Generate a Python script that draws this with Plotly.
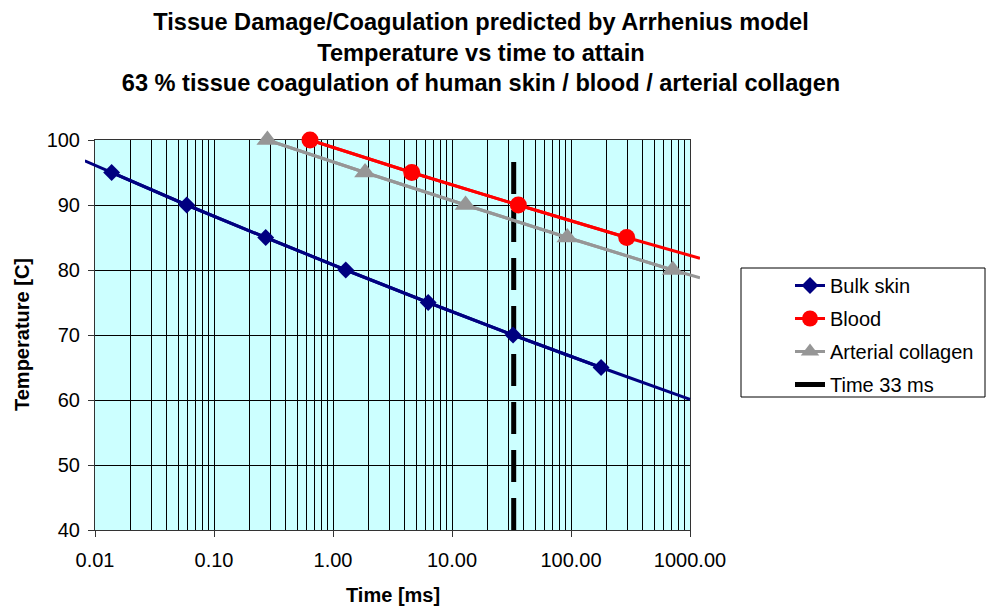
import math
import plotly.graph_objects as go

# ---------------- data ----------------
skin_time = [0.0138, 0.059, 0.272, 1.28, 6.31, 32.6, 179]
skin_temp = [95, 90, 85, 80, 75, 70, 65]
skin_ext_time = [0.0082, 1000]
skin_ext_temp = [96.8, 60.1]

blood_time = [0.641, 4.59, 36.1, 294]
blood_temp = [100, 95, 90, 85]
blood_ext_time = [1213]
blood_ext_temp = [81.8]

collagen_time = [0.281, 1.86, 13.0, 93.1, 716]
collagen_temp = [100, 95, 90, 85, 80]
collagen_ext_time = [1213]
collagen_ext_temp = [78.8]

time33_time = [33, 33]
time33_temp = [40, 97.4]

x_tickvals = [0.01, 0.1, 1, 10, 100, 1000]
x_ticktext = ["0.01", "0.10", "1.00", "10.00", "100.00", "1000.00"]
y_tickvals = [40, 50, 60, 70, 80, 90, 100]

title_lines = [
    "Tissue Damage/Coagulation predicted by Arrhenius model",
    "Temperature vs time to attain",
    "63 % tissue coagulation of human skin / blood / arterial collagen",
]

# ---------------- layout geometry ----------------
W, H = 989, 606
PL, PR, PT, PB = 95, 690, 140, 530  # plot area in px
EXT = 10  # px the series lines run past the frame

FONT = "Liberation Sans, Arial, Helvetica, sans-serif"
NAVY, RED, GRAY = "#000080", "#FF0000", "#969696"

xdom = [PL / W, PR / W]
ydom = [1 - PB / H, 1 - PT / H]
lx0, lx1 = math.log10(x_tickvals[0]), math.log10(x_tickvals[-1])
per_px = (lx1 - lx0) / (PR - PL)
x2dom = [(PL - EXT) / W, (PR + EXT) / W]
x2range = [lx0 - EXT * per_px, lx1 + EXT * per_px]

minor_vals = [m * 10 ** e for e in range(-2, 3) for m in range(2, 10)]

fig = go.Figure()

# dashed 33 ms line on the framed axes (drawn first, below everything else)
fig.add_trace(go.Scatter(
    x=time33_time, y=time33_temp, name="Time 33 ms", mode="lines",
    line=dict(color="black", width=5, dash="32px,16px"),
    legendrank=4, legendgroup="d",
))

specs = [
    ("Bulk skin", skin_time, skin_temp, skin_ext_time[:1], skin_ext_temp[:1],
     skin_ext_time[1:], skin_ext_temp[1:], NAVY, "diamond", 13),
    ("Blood", blood_time, blood_temp, [], [], blood_ext_time, blood_ext_temp,
     RED, "circle", 17),
    ("Arterial collagen", collagen_time, collagen_temp, [], [],
     collagen_ext_time, collagen_ext_temp, GRAY, "triangle-up", 19),
]

# curves, continued a little past the frame as in the reference
# (on an unframed twin axis pair with the same scale but a slightly wider domain)
for name, t, T, tb, Tb, ta, Ta, color, symbol, size in specs:
    fig.add_trace(go.Scatter(
        x=tb + t + ta, y=Tb + T + Ta, mode="lines",
        line=dict(color=color, width=3),
        xaxis="x2", yaxis="y2", showlegend=False, hoverinfo="skip",
    ))

# markers on top
for rank, (name, t, T, tb, Tb, ta, Ta, color, symbol, size) in enumerate(specs, 1):
    fig.add_trace(go.Scatter(
        x=t, y=T, name=name, mode="lines+markers",
        line=dict(color=color, width=3),
        marker=dict(symbol=symbol, size=size, color=color),
        xaxis="x2", yaxis="y2", cliponaxis=False,
        legendrank=rank, legendgroup=name,
    ))

axis_font = dict(family=FONT, size=20, color="black")

fig.update_layout(
    width=W, height=H,
    margin=dict(l=0, r=0, t=0, b=0),
    paper_bgcolor="white",
    plot_bgcolor="rgba(0,0,0,0)",
    font=dict(family=FONT, color="black"),
    title=dict(
        text="<br>".join(title_lines),
        font=dict(family=FONT, size=23.6, color="black", weight="bold"),
        x=481 / W, xanchor="center", xref="paper",
        y=1 - 30 / H, yanchor="top", yref="container",
    ),
    xaxis=dict(
        type="log", domain=xdom, range=[lx0, lx1], anchor="y",
        tickvals=x_tickvals, ticktext=x_ticktext, tickfont=axis_font,
        ticks="outside", ticklen=6, tickcolor="#333", ticklabelstandoff=6,
        showgrid=True, gridcolor="black", gridwidth=1,
        minor=dict(tickvals=minor_vals, showgrid=True, gridcolor="black",
                   gridwidth=1, ticks=""),
        showline=True, linecolor="#333", linewidth=1, mirror=True,
        zeroline=False, automargin=False, fixedrange=True,
    ),
    yaxis=dict(
        domain=ydom, range=[40, 100], anchor="x",
        tickvals=y_tickvals, tickfont=axis_font,
        ticks="outside", ticklen=6, tickcolor="#333", ticklabelstandoff=4,
        showgrid=True, gridcolor="black", gridwidth=1,
        showline=True, linecolor="#333", linewidth=1, mirror=True,
        zeroline=False, automargin=False, fixedrange=True,
    ),
    xaxis2=dict(
        type="log", domain=x2dom, range=x2range, anchor="y2",
        visible=False, showgrid=False, zeroline=False, fixedrange=True,
    ),
    yaxis2=dict(
        domain=ydom, range=[40, 100], anchor="x2",
        visible=False, showgrid=False, zeroline=False, fixedrange=True,
    ),
    showlegend=True,
    legend=dict(
        x=790 / W, xanchor="left", y=1 - 266 / H, yanchor="top",
        font=dict(family=FONT, size=20, color="black"),
        bgcolor="rgba(0,0,0,0)", borderwidth=0, tracegroupgap=4,
        traceorder="grouped",
    ),
    shapes=[
        dict(type="rect", xref="x domain", yref="y domain", x0=0, x1=1, y0=0, y1=1,
             fillcolor="#CCFFFF", line=dict(width=0), layer="below"),
        dict(type="rect", xref="paper", yref="paper",
             x0=741 / W, x1=985 / W, y0=1 - 397 / H, y1=1 - 268 / H,
             line=dict(color="black", width=1), fillcolor="rgba(0,0,0,0)"),
    ],
    annotations=[
        dict(text="<b>Time [ms]</b>", xref="paper", yref="paper",
             x=(PL + PR) / 2 / W, y=1 - 595 / H, xanchor="center", yanchor="middle",
             showarrow=False, font=dict(family=FONT, size=20, color="black")),
        dict(text="<b>Temperature [C]</b>", xref="paper", yref="paper",
             x=22 / W, y=1 - (PT + PB) / 2 / H, xanchor="center", yanchor="middle",
             textangle=-90, showarrow=False,
             font=dict(family=FONT, size=20, color="black")),
    ],
)

# the page's default 8px body margin would push the figure off its 989x606 window
fig.write_html("out.html", config={"displayModeBar": False},
               post_script="document.body.style.margin='0';")
